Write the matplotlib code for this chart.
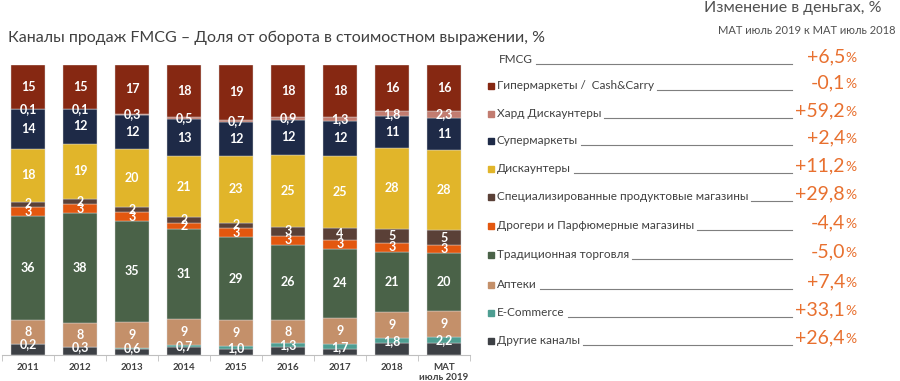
import numpy as np
import matplotlib.pyplot as plt

plt.rcParams['font.family'] = ['Lato', 'DejaVu Sans']

W, H = 900, 381

years = ['2011', '2012', '2013', '2014', '2015', '2016', '2017', '2018', 'MAT\nиюль 2019']

# top-to-bottom as in the legend
channels = ['Гипермаркеты /  Cash&Carry', 'Хард Дискаунтеры', 'Супермаркеты', 'Дискаунтеры',
            'Специализированные продуктовые магазины', 'Дрогери и Парфюмерные магазины',
            'Традиционная торговля', 'Аптеки', 'E-Commerce', 'Другие каналы']
hyper = [15, 15, 17, 18, 19, 18, 18, 16, 16]
hard = [0.1, 0.1, 0.3, 0.5, 0.7, 0.9, 1.3, 1.8, 2.3]
supermarkets = [14, 12, 12, 13, 12, 12, 12, 11, 11]
discounters = [18, 19, 20, 21, 23, 25, 25, 28, 28]
specialized = [2, 2, 2, 2, 2, 3, 4, 5, 5]
drogerie = [3, 3, 3, 2, 3, 3, 3, 3, 3]
traditional = [36, 38, 35, 31, 29, 26, 24, 21, 20]
pharmacy = [8, 8, 9, 9, 9, 8, 9, 9, 9]
ecommerce = [0.2, 0.3, 0.6, 0.7, 1.0, 1.3, 1.7, 1.8, 2.2]
other = [3.7, 2.6, 2.0, 2.8, 2.0, 2.8, 2.0, 4.0, 4.0]  # not labelled, estimated

change_labels = ['FMCG'] + channels
changes = ['+6,5', '-0,1', '+59,2', '+2,4', '+11,2', '+29,8', '-4,4', '-5,0', '+7,4', '+33,1', '+26,4']

colors = ['#862812', '#C27C70', '#1E2A47', '#E1B52A', '#5A4037', '#E3570F',
          '#4A6248', '#C4906A', '#4E9E92', '#3D4045']

series = [hyper, hard, supermarkets, discounters, specialized, drogerie,
          traditional, pharmacy, ecommerce, other]
show_label = [True] * 9 + [False]
one_decimal = [False, True, False, False, False, False, False, False, True, False]

def fx(px):
    return px / W

def fy(py):
    return 1 - py / H

fig = plt.figure(figsize=(W / 100, H / 100), dpi=100)
ax = fig.add_axes([fx(2), fy(355), fx(470) - fx(2), fy(65) - fy(355)])

data = np.array(series, dtype=float)
totals = data.sum(axis=0)
shares = data / totals * 100
x = np.arange(len(years))
bottom = np.zeros(len(years))
# stack from the bottom (last channel) upwards
for i in range(len(series) - 1, -1, -1):
    ax.bar(x, shares[i], 0.67, bottom=bottom, color=colors[i], edgecolor='#d8d8d8', linewidth=0.3)
    if show_label[i]:
        for j in range(len(years)):
            v = series[i][j]
            txt = ('%.1f' % v if one_decimal[i] else '%d' % v).replace('.', ',')
            ax.text(x[j], bottom[j] + shares[i][j] / 2, txt, ha='center', va='center',
                    color='white', fontsize=9, fontweight='bold')
    bottom += shares[i]

ax.set_xlim(-0.5, len(years) - 0.5)
ax.set_ylim(0, 100)
ax.set_yticks([])
for s in ['top', 'right', 'left']:
    ax.spines[s].set_visible(False)
ax.spines['bottom'].set_color('#bfbfbf')
ax.set_xticks(x)
ax.set_xticklabels(years, fontsize=7, fontweight='bold', color='#404040', linespacing=1.1)
ax.tick_params(axis='x', length=0, pad=6)
ax.set_xticks(np.arange(len(years) + 1) - 0.5, minor=True)
ax.tick_params(axis='x', which='minor', length=4, color='#bfbfbf')

fig.text(fx(8), fy(38), 'Каналы продаж FMCG – Доля от оборота в стоимостном выражении, %',
         fontsize=11.5, color='#404040', va='center', ha='left')

fig.text(fx(882), fy(8), 'Изменение в деньгах, %', fontsize=11.5, color='#505050',
         ha='right', va='center')
fig.text(fx(895), fy(30), 'MAT июль 2019 к MAT июль 2018', fontsize=8, color='#505050',
         ha='right', va='center')

fig.canvas.draw()
renderer = fig.canvas.get_renderer()

row_y = [63, 89, 117, 144, 172, 200, 229, 258, 288, 316, 344]
line_end = 792
val_right = 856
orange = '#E8702F'
for k, (name, val) in enumerate(zip(change_labels, changes)):
    y = row_y[k]
    if k == 0:
        t = fig.text(fx(499), fy(y), name, fontsize=8.5, color='#404040', ha='left', va='baseline')
    else:
        fig.patches.append(plt.Rectangle((fx(488), fy(y)), fx(6), 6 / H,
                                         transform=fig.transFigure, color=colors[k - 1]))
        t = fig.text(fx(497), fy(y), name, fontsize=8.5, color='#404040', ha='left', va='baseline')
    bb = t.get_window_extent(renderer)
    x0 = bb.x1 / fig.dpi * 100 + 3
    fig.add_artist(plt.Line2D([fx(x0), fx(line_end)], [fy(y + 1), fy(y + 1)],
                              color='#7f7f7f', linewidth=0.8))
    p = fig.text(fx(val_right), fy(y - 1), '%', fontsize=10, color=orange, ha='right', va='baseline')
    pb = p.get_window_extent(renderer)
    fig.text(pb.x0 / fig.dpi * 100 / W, fy(y - 1), val, fontsize=14, color=orange,
             ha='right', va='baseline')

fig.savefig('out.png', dpi=100)
